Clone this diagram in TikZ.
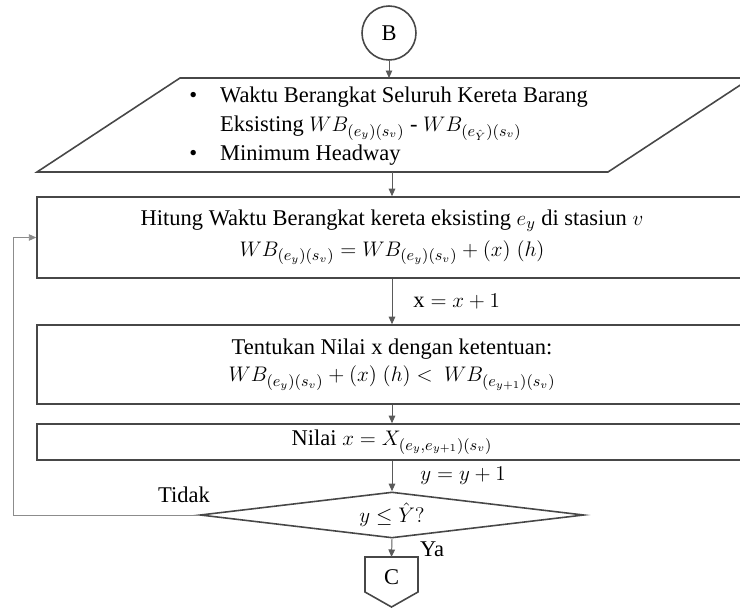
\documentclass[tikz,border=0pt]{standalone}
\usepackage{amsmath,amssymb}
\usepackage{fontspec}
\setmainfont{Liberation Serif}
\usepackage{xcolor}
\usetikzlibrary{arrows.meta,positioning,shapes.geometric}
\definecolor{linec}{HTML}{474747}
\definecolor{arrc}{HTML}{5A5A5A}
\definecolor{backc}{HTML}{8C8C8C}
\tikzset{
  ar/.style={-{Triangle[length=1.5mm,width=1.3mm]},arrc,line width=0.55pt},
  box/.style={draw=linec,line width=0.9pt,minimum width=14.2cm,align=center,inner sep=0pt},
  lbl/.style={midway,anchor=west,inner sep=0pt,text=black}
}

\begin{document}
\begin{tikzpicture}[x=0.02cm,y=-0.02cm,font=\fontsize{12.8}{15.5}\selectfont]
\useasboundingbox (0,0) rectangle (740,608);
\node[draw=linec,line width=0.9pt,circle,minimum size=1.08cm,inner sep=0pt] (B) at (389,33) {B};
% data input
\coordinate (inTop) at (392,78);
\coordinate (inBot) at (392,172);
\draw[linec,line width=0.9pt] (37,172) -- (180,78) -- (751,78) -- (608,172) -- cycle;
\node[anchor=west,inner sep=0pt] (data) at (189,126) {\renewcommand{\arraystretch}{1.05}%
  \begin{tabular}{@{}l@{\hspace{13pt}}l@{}}
  \textbullet & Waktu Berangkat Seluruh Kereta Barang\\
   & Eksisting $WB_{(e_y)(s_v)}$ - $WB_{(e_{\hat{Y}})(s_v)}$\\
  \textbullet & Minimum Headway
  \end{tabular}};
\node[box,minimum height=1.62cm] (hitung) at (392,237.5)
  {Hitung Waktu Berangkat kereta eksisting $e_y$ di stasiun $v$\\[2pt]
   $WB_{(e_y)(s_v)} = WB_{(e_y)(s_v)} + (x)\;(h)$};
\node[box,minimum height=1.58cm] (tentukan) at (392,364.5)
  {Tentukan Nilai x dengan ketentuan:\\
   $WB_{(e_y)(s_v)} + (x)\;(h) <\ WB_{(e_{y+1})(s_v)}$};
\node[box,minimum height=0.72cm] (nilai) at (392,442)
  {Nilai $x = X_{(e_y,e_{y+1})(s_v)}$};
\node[diamond,draw=linec,line width=0.9pt,aspect=8.3,inner sep=0pt,
  minimum width=7.68cm,minimum height=0.92cm] (cek) at (392,515) {$y \leq \hat{Y}?$};
% off-page connector
\coordinate (cTop) at (391.5,557);
\draw[linec,line width=0.9pt] (365,557) -- (418,557) -- (418,592) -- (391.5,607) -- (365,592) -- cycle;
\node (C) at (391.5,577) {C};
\node (tidak) at (184,495) {Tidak};
\coordinate (kiri) at (13,515);

\draw[ar] (B.south) -- (B.south |- inTop);
\draw[ar] (inBot) -- (hitung.north);
\draw[ar] (hitung.south) -- (tentukan.north)
  node[lbl,xshift=0.42cm] {$\mathrm{x} = x + 1$};
\draw[ar] (tentukan.south) -- (nilai.north);
\draw[ar] (nilai.south) -- (cek.north)
  node[lbl,xshift=0.56cm] {$y = y + 1$};
\draw[ar] (cek.south) -- (cTop)
  node[lbl,xshift=0.56cm,yshift=-1pt] {Ya};
\draw[ar,backc] (cek.west) -- (kiri) |- (hitung.west);
\end{tikzpicture}
\end{document}
